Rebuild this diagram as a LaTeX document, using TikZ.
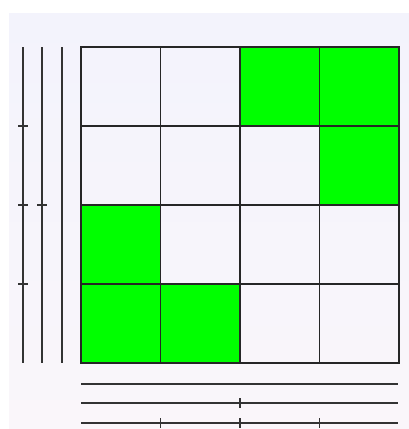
\documentclass[tikz,border=0pt]{standalone}
\usetikzlibrary{positioning}
\definecolor{bgtop}{RGB}{243,243,252}
\definecolor{bgbot}{RGB}{250,246,250}
\definecolor{cellgreen}{RGB}{0,255,0}
\tikzset{
  cell/.style={draw=black!85, line width=1.3pt, minimum width=79.5pt, minimum height=79pt, inner sep=0pt, outer sep=0pt, anchor=north west},
  on/.style={fill=cellgreen},
  bar/.style={draw=black!80, line width=1.4pt},
  tickmark/.style={draw=black!80, line width=1.4pt}
}
\begin{document}
\begin{tikzpicture}[x=1pt,y=-1pt]
\useasboundingbox (0,0) rectangle (409,429);
\shade[top color=bgtop, bottom color=bgbot] (9,13) rectangle (409,429);
% grid cells
\foreach \r in {0,...,3}{
  \foreach \c in {0,...,3}{
    \node[cell] (c-\r-\c) at ({81+79.5*\c},{47+79*\r}) {};
  }
}
\foreach \r/\c in {0/2,0/3,1/3,2/0,3/0,3/1}{
  \node[cell,on] at ({81+79.5*\c},{47+79*\r}) {};
}
% left vertical bars
\foreach \x in {23,42,62}{
  \draw[bar] (\x,47) -- (\x,363);
}
\foreach \y in {126,205,284}{
  \draw[tickmark] (18,\y) -- (28,\y);
}
\draw[tickmark] (37,205) -- (47,205);
% bottom horizontal bars
\foreach \y in {384,403,423}{
  \draw[bar] (81,\y) -- (398,\y);
}
\draw[tickmark] (240,398) -- (240,408);
\foreach \x in {160.5,240,319.5}{
  \draw[tickmark] (\x,418) -- (\x,428);
}
\end{tikzpicture}
\end{document}
